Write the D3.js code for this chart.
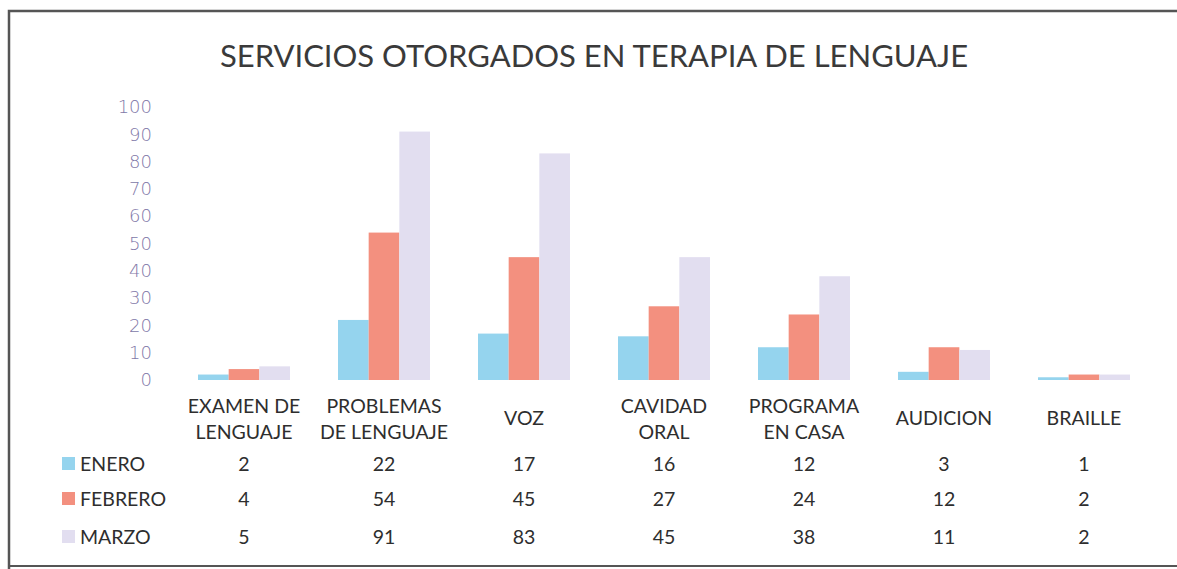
<!DOCTYPE html>
<html><head><meta charset="utf-8">
<script src="https://cdn.jsdelivr.net/npm/d3@7"></script>
<style>body{margin:0;background:#fff}svg{display:block}</style>
</head><body>
<script>
const categories = [["EXAMEN DE","LENGUAJE"],["PROBLEMAS","DE LENGUAJE"],["VOZ"],["CAVIDAD","ORAL"],["PROGRAMA","EN CASA"],["AUDICION"],["BRAILLE"]];
const seriesNames = ["ENERO","FEBRERO","MARZO"];
const enero = [2,22,17,16,12,3,1];
const febrero = [4,54,45,27,24,12,2];
const marzo = [5,91,83,45,38,11,2];
const yTicks = [0,10,20,30,40,50,60,70,80,90,100];
const title = "SERVICIOS OTORGADOS EN TERAPIA DE LENGUAJE";

const W = 1177, H = 569;
const colors = ["#95d4ee","#f3907f","#e2def0"];
const series = [enero, febrero, marzo];
const font = "Lato, 'Open Sans', sans-serif";

const svg = d3.select("body").append("svg").attr("width", W).attr("height", H);
svg.append("rect").attr("width", W).attr("height", H).attr("fill", "#fff");

// frame
svg.append("path").attr("d", `M9,${H} L9,11 L${W},11`).attr("fill","none").attr("stroke","#555").attr("stroke-width",2.5);
svg.append("line").attr("x1",9).attr("x2",W).attr("y1",566).attr("y2",566).attr("stroke","#555").attr("stroke-width",2);

svg.append("text").attr("x", 594).attr("y", 67).attr("text-anchor","middle")
  .attr("font-family", font).attr("font-size", 31).attr("fill","#3a3a3a").text(title);

const idx = categories.map((d,i)=>i);
const x = d3.scaleBand().domain(idx).range([174, 1154]).paddingInner(0).paddingOuter(0);
const xs = d3.scaleBand().domain([0,1,2]).range([0, 92]);
const y = d3.scaleLinear().domain([0,100]).range([380, 107]);

// y axis
const yAxis = d3.axisLeft(y).tickValues(yTicks).tickSize(0).tickPadding(0);
const ya = svg.append("g").attr("transform","translate(152,0)").call(yAxis);
ya.select(".domain").remove();
ya.selectAll("text").attr("font-family","'DejaVu Sans', sans-serif").attr("font-size",18)
  .attr("fill","#8178a8").attr("font-weight",300);

// bars
series.forEach((vals, s) => {
  svg.append("g").selectAll("rect").data(vals).join("rect")
    .attr("x", (d,i) => x(i) + (x.bandwidth()-92)/2 + xs(s))
    .attr("width", xs.bandwidth())
    .attr("y", d => y(d))
    .attr("height", d => y(0) - y(d))
    .attr("fill", colors[s]);
});

// category labels
const cl = svg.append("g").attr("font-family", font).attr("font-size", 19.5).attr("fill","#2e2e2e").attr("text-anchor","middle");
categories.forEach((lines, i) => {
  const cx = x(i) + x.bandwidth()/2;
  const t = cl.append("text").attr("x", cx);
  if (lines.length === 1) {
    t.attr("y", 425).text(lines[0]);
  } else {
    lines.forEach((ln, k) => t.append("tspan").attr("x", cx).attr("y", 413 + k*26).text(ln));
  }
});

// data table
const rowsY = [471, 506, 544];
const tg = svg.append("g").attr("font-family", font).attr("font-size", 19.5).attr("fill","#2e2e2e");
series.forEach((vals, s) => {
  tg.append("rect").attr("x", 62).attr("y", rowsY[s]-14).attr("width", 13).attr("height", 13).attr("fill", colors[s]);
  tg.append("text").attr("x", 80).attr("y", rowsY[s]).text(seriesNames[s]);
  vals.forEach((v, i) => {
    tg.append("text").attr("x", x(i) + x.bandwidth()/2).attr("y", rowsY[s]).attr("text-anchor","middle").text(v);
  });
});
</script>
</body></html>
